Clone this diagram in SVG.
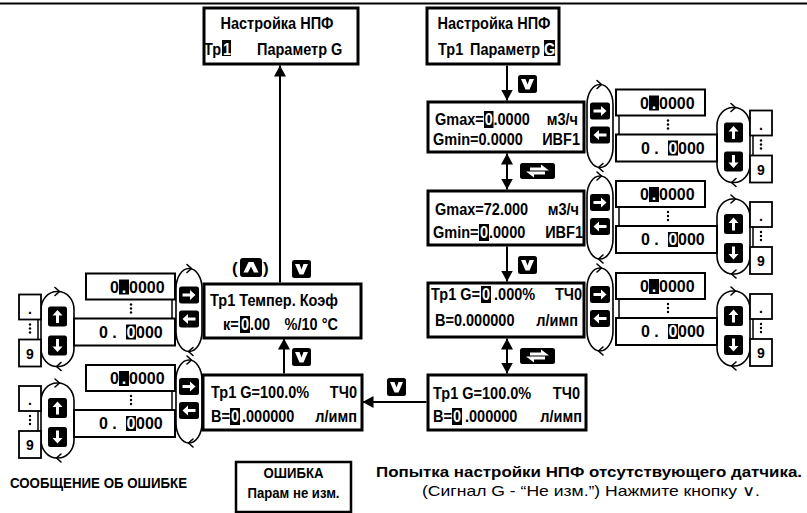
<svg xmlns="http://www.w3.org/2000/svg" width="807" height="513" viewBox="0 0 807 513">
<style>
text{font-family:"Liberation Sans",Arial,Helvetica,sans-serif;font-weight:bold;font-size:14.5px;fill:#000}
.n{font-size:16.5px}
.ft{font-size:16px}
.sm{font-size:14px}
.par{font-size:17px}
.w{fill:#fff}
.box{fill:#fff;stroke:#000;stroke-width:3}
.fld{fill:#fff;stroke:#000;stroke-width:2}
.sb{fill:#fff;stroke:#000;stroke-width:1.8}
.stad{fill:none;stroke:#000;stroke-width:1.6}
.chev{fill:none;stroke:#000;stroke-width:1.6;stroke-linecap:round;stroke-linejoin:round}
.thin{stroke:#000;stroke-width:1.5}
.cur{fill:#000}
.con{stroke:#000;stroke-width:2;fill:none}
.dot{fill:#000}
.nrm{font-weight:normal}
</style>
<defs>
<marker id="ah" viewBox="0 0 11 12" refX="11" refY="6" markerWidth="11" markerHeight="12" markerUnits="userSpaceOnUse" orient="auto-start-reverse"><path d="M0,0 L11,6 L0,12 z" fill="#000"/></marker>
<g id="kDown"><rect width="19" height="18" rx="2.5" fill="#000"/><polygon points="3,4 7.5,4 9.5,9.5 11.5,4 16,4 11.5,14.5 7.5,14.5" fill="#fff"/></g>
<g id="kUpC"><rect width="22" height="19" rx="3" fill="#000"/><polygon points="3.5,14.5 8,14.5 11,8.5 14,14.5 18.5,14.5 13.5,4 8.5,4" fill="#fff"/></g>
<g id="kSwap"><rect width="35" height="16" rx="2.5" fill="#000"/><polygon points="10,4.5 21,4.5 21,1.5 29,7.5 10,7.5" fill="#fff"/><polygon points="25,8.5 6,8.5 14,14.5 14,11.5 25,11.5" fill="#fff"/></g>
<g id="kR"><rect width="20" height="17" rx="2.5" fill="#000"/><polygon points="3.5,7 11,7 11,3.5 16.5,8.5 11,13.5 11,10 3.5,10" fill="#fff"/></g>
<g id="kL"><rect width="20" height="17" rx="2.5" fill="#000"/><polygon points="16.5,7 9,7 9,3.5 3.5,8.5 9,13.5 9,10 16.5,10" fill="#fff"/></g>
<g id="kUp"><rect width="19" height="20" rx="2.5" fill="#000"/><polygon points="8,16.5 8,9 4.5,9 9.5,3.5 14.5,9 11,9 11,16.5" fill="#fff"/></g>
<g id="kDn"><rect width="19" height="20" rx="2.5" fill="#000"/><polygon points="8,3.5 8,11 4.5,11 9.5,16.5 14.5,11 11,11 11,3.5" fill="#fff"/></g>
</defs>

<line x1="0" y1="3.5" x2="807" y2="3.5" stroke="#000" stroke-width="2"/>

<g id="connectors">
<line class="con" x1="507" y1="65.5" x2="507" y2="100.5" marker-end="url(#ah)"/>
<line class="con" x1="507" y1="153.5" x2="507" y2="189.5" marker-start="url(#ah)" marker-end="url(#ah)"/>
<line class="con" x1="507" y1="246.5" x2="507" y2="281.5" marker-end="url(#ah)"/>
<line class="con" x1="507" y1="338.5" x2="507" y2="373.5" marker-start="url(#ah)" marker-end="url(#ah)"/>
<line class="con" x1="426.5" y1="402" x2="362.5" y2="402" marker-end="url(#ah)"/>
<line class="con" x1="284" y1="373.5" x2="284" y2="338.5" marker-end="url(#ah)"/>
<line class="con" x1="280" y1="282.5" x2="280" y2="65.5" marker-end="url(#ah)"/>
<use href="#kDown" x="518" y="75"/>
<use href="#kSwap" x="520" y="163"/>
<use href="#kDown" x="518" y="256"/>
<use href="#kSwap" x="520" y="348"/>
<use href="#kDown" x="387" y="378"/>
<use href="#kDown" x="292" y="348"/>
<use href="#kDown" x="292" y="260"/>
<text class="par" x="232" y="274">(</text>
<use href="#kUpC" x="240" y="258"/>
<text class="par" x="263" y="274">)</text>
</g>

<g id="nTopL">
<rect class="box" x="204" y="8" width="154" height="56"/>
<text class="n" transform="scale(0.88 1)" x="314.77" y="29" text-anchor="middle">Настройка НПФ</text>
<rect class="cur" x="222" y="40" width="9" height="16"/>
<text class="n" transform="scale(0.88 1)" y="55"><tspan x="231.8">Тр</tspan><tspan class="w" x="253.4">1</tspan> <tspan x="292.05">Параметр G</tspan></text>
</g>

<g id="nTopR">
<rect class="box" x="427" y="8" width="132" height="56"/>
<text class="n" transform="scale(0.88 1)" x="561.36" y="29" text-anchor="middle">Настройка НПФ</text>
<rect class="cur" x="544" y="40" width="11" height="16"/>
<text class="n" transform="scale(0.88 1)" y="55"><tspan x="497.7">Тр1</tspan> <tspan x="534.1">Параметр</tspan> <tspan class="w" x="618.07">G</tspan></text>
</g>

<g id="nGmax">
<rect class="box" x="428" y="102" width="156" height="50"/>
<rect class="cur" x="484" y="111" width="9.5" height="17"/>
<text class="n" transform="scale(0.88 1)" y="125"><tspan x="494.3">Gmax=</tspan><tspan class="w" x="550.8">0</tspan><tspan x="560.8">.0000</tspan> <tspan x="656.8" text-anchor="end">м3/ч</tspan></text>
<text class="n" transform="scale(0.88 1)" y="145"><tspan x="492.05">Gmin=0.0000</tspan> <tspan x="659.1" text-anchor="end">ИВF1</tspan></text>
</g>

<g id="nGmin">
<rect class="box" x="428" y="191" width="156" height="54"/>
<text class="n" transform="scale(0.88 1)" y="215"><tspan x="494.3">Gmax=72.000</tspan> <tspan x="657.95" text-anchor="end">м3/ч</tspan></text>
<rect class="cur" x="479" y="224" width="10" height="17"/>
<text class="n" transform="scale(0.88 1)" y="238"><tspan x="492.05">Gmin=</tspan><tspan class="w" x="545.45">0</tspan><tspan x="555.68">.0000</tspan> <tspan x="662.5" text-anchor="end">ИВF1</tspan></text>
</g>

<g id="nG0">
<rect class="box" x="428" y="283" width="156" height="54"/>
<rect class="cur" x="481" y="286" width="10" height="17"/>
<text class="n" transform="scale(0.88 1)" y="300"><tspan x="489.8">Тр1 G=</tspan><tspan class="w" x="547.7">0</tspan> <tspan x="561.4">.000%</tspan> <tspan x="661.4" text-anchor="end">ТЧ0</tspan></text>
<text class="n" transform="scale(0.88 1)" y="326"><tspan x="494.3">В=0.000000</tspan> <tspan x="656.8" text-anchor="end">л/имп</tspan></text>
</g>

<g id="nG100R">
<rect class="box" x="428" y="375" width="158" height="55"/>
<text class="n" transform="scale(0.88 1)" y="399"><tspan x="492.05">Тр1 G=100.0%</tspan> <tspan x="659.1" text-anchor="end">ТЧ0</tspan></text>
<rect class="cur" x="452" y="408" width="10" height="17"/>
<text class="n" transform="scale(0.88 1)" y="422"><tspan x="492.05">В=</tspan><tspan class="w" x="514.8">0</tspan> <tspan x="528.4">.000000</tspan> <tspan x="661.4" text-anchor="end">л/имп</tspan></text>
</g>

<g id="nG100L">
<rect class="box" x="203" y="375" width="159" height="55"/>
<text class="n" transform="scale(0.88 1)" y="398"><tspan x="239.8">Тр1 G=100.0%</tspan> <tspan x="405.7" text-anchor="end">ТЧ0</tspan></text>
<rect class="cur" x="230" y="408" width="10" height="17"/>
<text class="n" transform="scale(0.88 1)" y="422"><tspan x="239.8">В=</tspan><tspan class="w" x="262.5">0</tspan> <tspan x="275">.000000</tspan> <tspan x="405.7" text-anchor="end">л/имп</tspan></text>
</g>

<g id="nTemp">
<rect class="box" x="204" y="284" width="157" height="54"/>
<text class="n" transform="scale(0.88 1)" x="238.6" y="306">Тр1 Темпер. Коэф</text>
<rect class="cur" x="240" y="316" width="10" height="17"/>
<text class="n" transform="scale(0.88 1)" y="330"><tspan x="253.4">к=</tspan><tspan class="w" x="273.9">0</tspan><tspan x="284.1">.00</tspan> <tspan x="384.1" text-anchor="end">%/10 °C</tspan></text>
</g>

<g id="editGmax" transform="translate(585,126.5)">
<rect class="stad" x="2" y="-42" width="26" height="83" rx="13" ry="20"/>
<path class="chev" d="M12,-46 L16.5,-42 L12,-38"/>
<path class="chev" d="M18,37 L13.5,41 L18,45"/>
<use href="#kR" x="5" y="-24"/>
<use href="#kL" x="5" y="0"/>
<rect class="stad" x="132" y="-19" width="33" height="75" rx="16" ry="18"/>
<path class="chev" d="M146,-23 L150.5,-19 L146,-15"/>
<path class="chev" d="M151,52 L146.5,56 L151,60"/>
<use href="#kUp" x="139" y="-4"/>
<use href="#kDn" x="139" y="25"/>
<rect class="fld" x="31" y="-37" width="89" height="26"/>
<rect class="fld" x="31" y="8" width="101" height="27"/>
<line class="thin" x1="34" y1="-11" x2="34" y2="8"/>
<circle class="dot" cx="83" cy="-6" r="1.2"/><circle class="dot" cx="83" cy="-2" r="1.2"/><circle class="dot" cx="83" cy="2" r="1.2"/>
<rect class="cur" x="64" y="-31" width="10" height="15"/>
<text class="ft" y="-18"><tspan x="55">0</tspan><tspan class="w" x="66.8">.</tspan><tspan x="74">0000</tspan></text>
<rect class="cur" x="83" y="14" width="10" height="15"/>
<text class="ft" y="27"><tspan x="56">0 .</tspan><tspan class="w" x="83.6">0</tspan><tspan x="93">000</tspan></text>
<rect class="sb" x="165" y="-16" width="22" height="25"/>
<rect class="sb" x="165" y="29" width="22" height="27"/>
<line class="thin" x1="168" y1="9" x2="168" y2="29"/>
<circle class="dot" cx="176" cy="14" r="1.2"/><circle class="dot" cx="176" cy="18" r="1.2"/><circle class="dot" cx="176" cy="22" r="1.2"/>
<text class="sm" x="174" y="3">.</text>
<text class="sm" x="172.1" y="48">9</text>
</g>

<g id="editGmin" transform="translate(585,218)">
<rect class="stad" x="2" y="-42" width="26" height="83" rx="13" ry="20"/>
<path class="chev" d="M12,-46 L16.5,-42 L12,-38"/>
<path class="chev" d="M18,37 L13.5,41 L18,45"/>
<use href="#kR" x="5" y="-24"/>
<use href="#kL" x="5" y="0"/>
<rect class="stad" x="132" y="-19" width="33" height="75" rx="16" ry="18"/>
<path class="chev" d="M146,-23 L150.5,-19 L146,-15"/>
<path class="chev" d="M151,52 L146.5,56 L151,60"/>
<use href="#kUp" x="139" y="-4"/>
<use href="#kDn" x="139" y="25"/>
<rect class="fld" x="31" y="-37" width="89" height="26"/>
<rect class="fld" x="31" y="8" width="101" height="27"/>
<line class="thin" x1="34" y1="-11" x2="34" y2="8"/>
<circle class="dot" cx="83" cy="-6" r="1.2"/><circle class="dot" cx="83" cy="-2" r="1.2"/><circle class="dot" cx="83" cy="2" r="1.2"/>
<rect class="cur" x="64" y="-31" width="10" height="15"/>
<text class="ft" y="-18"><tspan x="55">0</tspan><tspan class="w" x="66.8">.</tspan><tspan x="74">0000</tspan></text>
<rect class="cur" x="83" y="14" width="10" height="15"/>
<text class="ft" y="27"><tspan x="56">0 .</tspan><tspan class="w" x="83.6">0</tspan><tspan x="93">000</tspan></text>
<rect class="sb" x="165" y="-16" width="22" height="25"/>
<rect class="sb" x="165" y="29" width="22" height="27"/>
<line class="thin" x1="168" y1="9" x2="168" y2="29"/>
<circle class="dot" cx="176" cy="14" r="1.2"/><circle class="dot" cx="176" cy="18" r="1.2"/><circle class="dot" cx="176" cy="22" r="1.2"/>
<text class="sm" x="174" y="3">.</text>
<text class="sm" x="172.1" y="48">9</text>
</g>

<g id="editG0" transform="translate(585,310)">
<rect class="stad" x="2" y="-42" width="26" height="83" rx="13" ry="20"/>
<path class="chev" d="M12,-46 L16.5,-42 L12,-38"/>
<path class="chev" d="M18,37 L13.5,41 L18,45"/>
<use href="#kR" x="5" y="-24"/>
<use href="#kL" x="5" y="0"/>
<rect class="stad" x="132" y="-19" width="33" height="75" rx="16" ry="18"/>
<path class="chev" d="M146,-23 L150.5,-19 L146,-15"/>
<path class="chev" d="M151,52 L146.5,56 L151,60"/>
<use href="#kUp" x="139" y="-4"/>
<use href="#kDn" x="139" y="25"/>
<rect class="fld" x="31" y="-37" width="89" height="26"/>
<rect class="fld" x="31" y="8" width="101" height="27"/>
<line class="thin" x1="34" y1="-11" x2="34" y2="8"/>
<circle class="dot" cx="83" cy="-6" r="1.2"/><circle class="dot" cx="83" cy="-2" r="1.2"/><circle class="dot" cx="83" cy="2" r="1.2"/>
<rect class="cur" x="64" y="-31" width="10" height="15"/>
<text class="ft" y="-18"><tspan x="55">0</tspan><tspan class="w" x="66.8">.</tspan><tspan x="74">0000</tspan></text>
<rect class="cur" x="83" y="14" width="10" height="15"/>
<text class="ft" y="27"><tspan x="56">0 .</tspan><tspan class="w" x="83.6">0</tspan><tspan x="93">000</tspan></text>
<rect class="sb" x="165" y="-16" width="22" height="25"/>
<rect class="sb" x="165" y="29" width="22" height="27"/>
<line class="thin" x1="168" y1="9" x2="168" y2="29"/>
<circle class="dot" cx="176" cy="14" r="1.2"/><circle class="dot" cx="176" cy="18" r="1.2"/><circle class="dot" cx="176" cy="22" r="1.2"/>
<text class="sm" x="174" y="3">.</text>
<text class="sm" x="172.1" y="48">9</text>
</g>

<g id="editTemp" transform="translate(203,310.5)">
<rect class="stad" x="-27" y="-42" width="26" height="83" rx="13" ry="20"/>
<path class="chev" d="M-16,-46 L-11.5,-42 L-16,-38"/>
<path class="chev" d="M-10,37 L-14.5,41 L-10,45"/>
<use href="#kR" x="-24" y="-24"/>
<use href="#kL" x="-24" y="0"/>
<rect class="stad" x="-162" y="-19" width="33" height="75" rx="16" ry="18"/>
<path class="chev" d="M-148,-23 L-143.5,-19 L-148,-15"/>
<path class="chev" d="M-142,52 L-146.5,56 L-142,60"/>
<use href="#kUp" x="-155" y="-4"/>
<use href="#kDn" x="-155" y="25"/>
<rect class="fld" x="-117" y="-37" width="89" height="26"/>
<rect class="fld" x="-129" y="8" width="101" height="27"/>
<line class="thin" x1="-31" y1="-11" x2="-31" y2="8"/>
<circle class="dot" cx="-72" cy="-6" r="1.2"/><circle class="dot" cx="-72" cy="-2" r="1.2"/><circle class="dot" cx="-72" cy="2" r="1.2"/>
<rect class="cur" x="-84" y="-31" width="10" height="15"/>
<text class="ft" y="-18"><tspan x="-93">0</tspan><tspan class="w" x="-81.2">.</tspan><tspan x="-74">0000</tspan></text>
<rect class="cur" x="-77" y="14" width="10" height="15"/>
<text class="ft" y="27"><tspan x="-104">0 .</tspan><tspan class="w" x="-76.4">0</tspan><tspan x="-67">000</tspan></text>
<rect class="sb" x="-184" y="-16" width="22" height="25"/>
<rect class="sb" x="-184" y="29" width="22" height="27"/>
<line class="thin" x1="-165" y1="9" x2="-165" y2="29"/>
<circle class="dot" cx="-173" cy="14" r="1.2"/><circle class="dot" cx="-173" cy="18" r="1.2"/><circle class="dot" cx="-173" cy="22" r="1.2"/>
<text class="sm" x="-175" y="3">.</text>
<text class="sm" x="-176.9" y="48">9</text>
</g>

<g id="editB" transform="translate(203,402)">
<rect class="stad" x="-27" y="-42" width="26" height="83" rx="13" ry="20"/>
<path class="chev" d="M-16,-46 L-11.5,-42 L-16,-38"/>
<path class="chev" d="M-10,37 L-14.5,41 L-10,45"/>
<use href="#kR" x="-24" y="-24"/>
<use href="#kL" x="-24" y="0"/>
<rect class="stad" x="-162" y="-19" width="33" height="75" rx="16" ry="18"/>
<path class="chev" d="M-148,-23 L-143.5,-19 L-148,-15"/>
<path class="chev" d="M-142,52 L-146.5,56 L-142,60"/>
<use href="#kUp" x="-155" y="-4"/>
<use href="#kDn" x="-155" y="25"/>
<rect class="fld" x="-117" y="-37" width="89" height="26"/>
<rect class="fld" x="-129" y="8" width="101" height="27"/>
<line class="thin" x1="-31" y1="-11" x2="-31" y2="8"/>
<circle class="dot" cx="-72" cy="-6" r="1.2"/><circle class="dot" cx="-72" cy="-2" r="1.2"/><circle class="dot" cx="-72" cy="2" r="1.2"/>
<rect class="cur" x="-84" y="-31" width="10" height="15"/>
<text class="ft" y="-18"><tspan x="-93">0</tspan><tspan class="w" x="-81.2">.</tspan><tspan x="-74">0000</tspan></text>
<rect class="cur" x="-77" y="14" width="10" height="15"/>
<text class="ft" y="27"><tspan x="-104">0 .</tspan><tspan class="w" x="-76.4">0</tspan><tspan x="-67">000</tspan></text>
<rect class="sb" x="-184" y="-16" width="22" height="25"/>
<rect class="sb" x="-184" y="29" width="22" height="27"/>
<line class="thin" x1="-165" y1="9" x2="-165" y2="29"/>
<circle class="dot" cx="-173" cy="14" r="1.2"/><circle class="dot" cx="-173" cy="18" r="1.2"/><circle class="dot" cx="-173" cy="22" r="1.2"/>
<text class="sm" x="-175" y="3">.</text>
<text class="sm" x="-176.9" y="48">9</text>
</g>

<g id="errLabel">
<text x="10" y="488" font-size="16" textLength="177" lengthAdjust="spacingAndGlyphs">СООБЩЕНИЕ ОБ ОШИБКЕ</text>
</g>
<g id="errBox">
<rect x="236" y="462" width="115" height="50" fill="#fff" stroke="#000" stroke-width="2.5"/>
<text x="263.5" y="478" font-size="16" textLength="60" lengthAdjust="spacingAndGlyphs">ОШИБКА</text>
<text x="247.5" y="498" font-size="16" textLength="92" lengthAdjust="spacingAndGlyphs">Парам не изм.</text>
</g>
<g id="errNote">
<text x="376" y="477" font-size="16.5" textLength="426" lengthAdjust="spacingAndGlyphs">Попытка настройки НПФ отсутствующего датчика.</text>
<text class="nrm" x="422" y="496" font-size="15.5" textLength="338" lengthAdjust="spacingAndGlyphs">(Сигнал G - “Не изм.”) Нажмите кнопку ∨.</text>
</g>
</svg>
